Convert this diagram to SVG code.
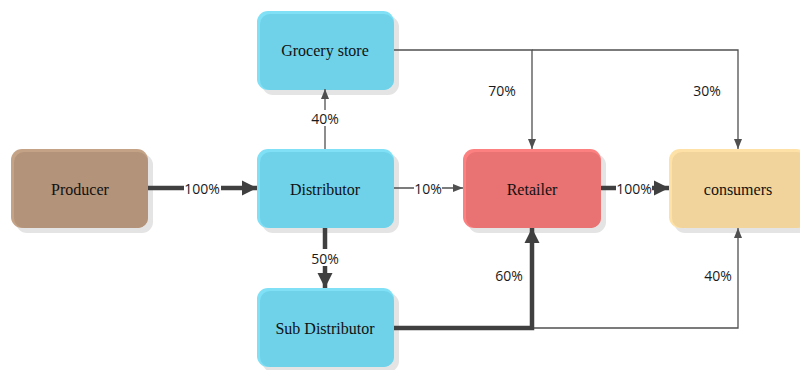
<svg xmlns="http://www.w3.org/2000/svg" width="800" height="370" viewBox="0 0 800 370">
<style>
.shadow{fill:#e4e4e4}
.nt{font-family:"Liberation Serif","Times New Roman",serif;font-size:16px;fill:#111;text-anchor:middle;dominant-baseline:central}
.lbl{font-family:"Open Sans","Noto Sans",sans-serif;font-size:14px;fill:#1a1a1a;text-anchor:middle;dominant-baseline:central}
.thick{stroke:#404040;stroke-width:4.5;fill:none}
.thin{stroke:#505050;stroke-width:1.3;fill:none}
.lb{fill:#fff}
</style>
<defs>
<marker id="big" markerUnits="userSpaceOnUse" markerWidth="16" markerHeight="16" viewBox="0 0 16 16" refX="15" refY="8" orient="auto">
<path d="M0,0.5 L15,8 L0,15.5 Z" fill="#404040"/>
</marker>
<marker id="sm" markerUnits="userSpaceOnUse" markerWidth="10" markerHeight="10" viewBox="0 0 10 10" refX="10" refY="5" orient="auto">
<path d="M0,1 L10,5 L0,9 Z" fill="#505050"/>
</marker>
</defs>
<g id="producer">
<rect class="shadow" x="16" y="154" width="137" height="79" rx="11"/>
<rect x="11" y="149" width="137" height="79" rx="11" fill="#c4a286"/>
<rect x="14" y="152" width="134" height="76" rx="10" fill="#b3937a"/>
<text class="nt" x="80" y="189">Producer</text>
</g>
<g id="distributor">
<rect class="shadow" x="262" y="154" width="137" height="79" rx="11"/>
<rect x="257" y="149" width="137" height="79" rx="11" fill="#7fe0f6"/>
<rect x="260" y="152" width="134" height="76" rx="10" fill="#6fd2e9"/>
<text class="nt" x="325" y="189">Distributor</text>
</g>
<g id="grocery">
<rect class="shadow" x="262" y="16" width="137" height="79" rx="11"/>
<rect x="257" y="11" width="137" height="79" rx="11" fill="#7fe0f6"/>
<rect x="260" y="14" width="134" height="76" rx="10" fill="#6fd2e9"/>
<text class="nt" x="325" y="50">Grocery store</text>
</g>
<g id="subdistributor">
<rect class="shadow" x="262" y="293" width="137" height="79" rx="11"/>
<rect x="257" y="288" width="137" height="79" rx="11" fill="#7fe0f6"/>
<rect x="260" y="291" width="134" height="76" rx="10" fill="#6fd2e9"/>
<text class="nt" x="325" y="328">Sub Distributor</text>
</g>
<g id="retailer">
<rect class="shadow" x="468" y="154" width="138" height="79" rx="11"/>
<rect x="463" y="149" width="138" height="79" rx="11" fill="#fc8080"/>
<rect x="466" y="152" width="135" height="76" rx="10" fill="#e97272"/>
<text class="nt" x="532" y="189">Retailer</text>
</g>
<g id="consumers">
<rect class="shadow" x="674" y="154" width="138" height="79" rx="11"/>
<rect x="669" y="149" width="138" height="79" rx="11" fill="#fde1a6"/>
<rect x="672" y="152" width="135" height="76" rx="10" fill="#f1d49b"/>
<text class="nt" x="738" y="189">consumers</text>
</g>
<g id="connectors">
<path class="thick" d="M148,188 L257,188" marker-end="url(#big)"/>
<rect class="lb" x="184" y="180" width="37" height="16"/>
<text class="lbl" x="202" y="188">100%</text>
<path class="thin" d="M394,188 L463,188" marker-end="url(#sm)"/>
<rect class="lb" x="414" y="180" width="28" height="16"/>
<text class="lbl" x="428" y="188">10%</text>
<path class="thick" d="M601,188 L669,188" marker-end="url(#big)"/>
<rect class="lb" x="616" y="180" width="36" height="16"/>
<text class="lbl" x="634" y="188">100%</text>
<path class="thin" d="M325,149 L325,89" marker-end="url(#sm)"/>
<rect class="lb" x="310" y="110" width="30" height="16"/>
<text class="lbl" x="325" y="118">40%</text>
<path class="thick" d="M325,228 L325,288" marker-end="url(#big)"/>
<rect class="lb" x="310" y="249" width="30" height="17"/>
<text class="lbl" x="325" y="258">50%</text>
<path class="thin" d="M394,50 L532,50 L532,149" marker-end="url(#sm)"/>
<path class="thin" d="M532,50 L738,50 L738,149" marker-end="url(#sm)"/>
<text class="lbl" x="502" y="90">70%</text>
<text class="lbl" x="707" y="90">30%</text>
<path class="thin" d="M532,328 L738,328 L738,228" marker-end="url(#sm)"/>
<path class="thick" d="M394,328 L532,328 L532,228" stroke-linejoin="miter" marker-end="url(#big)"/>
<text class="lbl" x="509" y="275">60%</text>
<text class="lbl" x="718" y="275">40%</text>
</g>
</svg>
